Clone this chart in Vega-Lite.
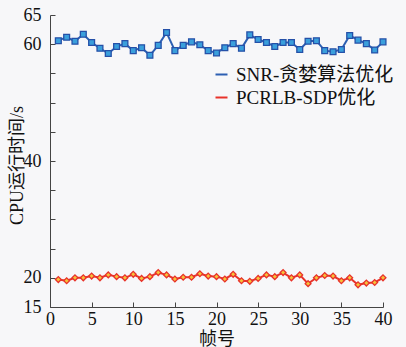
{
  "$schema": "https://vega.github.io/schema/vega-lite/v6.json",
  "width": 333,
  "height": 292,
  "autosize": {"type": "none"},
  "padding": {"left": 50, "top": 15, "right": 23, "bottom": 40},
  "background": "#f7f7f9",
  "config": {
    "view": {"stroke": null},
    "font": "Liberation Serif, Noto Sans CJK SC",
    "axis": {
      "domainColor": "#444",
      "tickColor": "#444",
      "grid": false,
      "labelFont": "Liberation Serif",
      "labelFontSize": 18,
      "labelColor": "#111",
      "titleFont": "Liberation Serif, Noto Sans CJK SC",
      "titleFontSize": 18,
      "titleFontWeight": "normal",
      "titleColor": "#111"
    }
  },
  "data": {
    "values": [
      {"frame": 1, "series": "SNR-贪婪算法优化", "time": 60.6},
      {"frame": 2, "series": "SNR-贪婪算法优化", "time": 61.2},
      {"frame": 3, "series": "SNR-贪婪算法优化", "time": 60.5},
      {"frame": 4, "series": "SNR-贪婪算法优化", "time": 61.7},
      {"frame": 5, "series": "SNR-贪婪算法优化", "time": 60.3},
      {"frame": 6, "series": "SNR-贪婪算法优化", "time": 59.3},
      {"frame": 7, "series": "SNR-贪婪算法优化", "time": 58.4},
      {"frame": 8, "series": "SNR-贪婪算法优化", "time": 59.6},
      {"frame": 9, "series": "SNR-贪婪算法优化", "time": 60.1},
      {"frame": 10, "series": "SNR-贪婪算法优化", "time": 58.9},
      {"frame": 11, "series": "SNR-贪婪算法优化", "time": 59.4},
      {"frame": 12, "series": "SNR-贪婪算法优化", "time": 58.1},
      {"frame": 13, "series": "SNR-贪婪算法优化", "time": 59.8},
      {"frame": 14, "series": "SNR-贪婪算法优化", "time": 62.0},
      {"frame": 15, "series": "SNR-贪婪算法优化", "time": 58.9},
      {"frame": 16, "series": "SNR-贪婪算法优化", "time": 59.8},
      {"frame": 17, "series": "SNR-贪婪算法优化", "time": 60.4},
      {"frame": 18, "series": "SNR-贪婪算法优化", "time": 59.9},
      {"frame": 19, "series": "SNR-贪婪算法优化", "time": 58.9},
      {"frame": 20, "series": "SNR-贪婪算法优化", "time": 58.5},
      {"frame": 21, "series": "SNR-贪婪算法优化", "time": 59.4},
      {"frame": 22, "series": "SNR-贪婪算法优化", "time": 60.1},
      {"frame": 23, "series": "SNR-贪婪算法优化", "time": 59.3},
      {"frame": 24, "series": "SNR-贪婪算法优化", "time": 61.6},
      {"frame": 25, "series": "SNR-贪婪算法优化", "time": 60.8},
      {"frame": 26, "series": "SNR-贪婪算法优化", "time": 60.3},
      {"frame": 27, "series": "SNR-贪婪算法优化", "time": 59.6},
      {"frame": 28, "series": "SNR-贪婪算法优化", "time": 60.3},
      {"frame": 29, "series": "SNR-贪婪算法优化", "time": 60.3},
      {"frame": 30, "series": "SNR-贪婪算法优化", "time": 59.1},
      {"frame": 31, "series": "SNR-贪婪算法优化", "time": 60.5},
      {"frame": 32, "series": "SNR-贪婪算法优化", "time": 60.6},
      {"frame": 33, "series": "SNR-贪婪算法优化", "time": 58.9},
      {"frame": 34, "series": "SNR-贪婪算法优化", "time": 58.7},
      {"frame": 35, "series": "SNR-贪婪算法优化", "time": 59.1},
      {"frame": 36, "series": "SNR-贪婪算法优化", "time": 61.5},
      {"frame": 37, "series": "SNR-贪婪算法优化", "time": 60.7},
      {"frame": 38, "series": "SNR-贪婪算法优化", "time": 60.1},
      {"frame": 39, "series": "SNR-贪婪算法优化", "time": 59.0},
      {"frame": 40, "series": "SNR-贪婪算法优化", "time": 60.4},
      {"frame": 1, "series": "PCRLB-SDP优化", "time": 19.7},
      {"frame": 2, "series": "PCRLB-SDP优化", "time": 19.5},
      {"frame": 3, "series": "PCRLB-SDP优化", "time": 20.0},
      {"frame": 4, "series": "PCRLB-SDP优化", "time": 20.0},
      {"frame": 5, "series": "PCRLB-SDP优化", "time": 20.3},
      {"frame": 6, "series": "PCRLB-SDP优化", "time": 20.0},
      {"frame": 7, "series": "PCRLB-SDP优化", "time": 20.5},
      {"frame": 8, "series": "PCRLB-SDP优化", "time": 20.2},
      {"frame": 9, "series": "PCRLB-SDP优化", "time": 20.0},
      {"frame": 10, "series": "PCRLB-SDP优化", "time": 20.6},
      {"frame": 11, "series": "PCRLB-SDP优化", "time": 19.9},
      {"frame": 12, "series": "PCRLB-SDP优化", "time": 20.2},
      {"frame": 13, "series": "PCRLB-SDP优化", "time": 20.9},
      {"frame": 14, "series": "PCRLB-SDP优化", "time": 20.5},
      {"frame": 15, "series": "PCRLB-SDP优化", "time": 19.8},
      {"frame": 16, "series": "PCRLB-SDP优化", "time": 20.1},
      {"frame": 17, "series": "PCRLB-SDP优化", "time": 20.1},
      {"frame": 18, "series": "PCRLB-SDP优化", "time": 20.7},
      {"frame": 19, "series": "PCRLB-SDP优化", "time": 20.3},
      {"frame": 20, "series": "PCRLB-SDP优化", "time": 20.2},
      {"frame": 21, "series": "PCRLB-SDP优化", "time": 19.8},
      {"frame": 22, "series": "PCRLB-SDP优化", "time": 20.6},
      {"frame": 23, "series": "PCRLB-SDP优化", "time": 19.5},
      {"frame": 24, "series": "PCRLB-SDP优化", "time": 19.4},
      {"frame": 25, "series": "PCRLB-SDP优化", "time": 19.9},
      {"frame": 26, "series": "PCRLB-SDP优化", "time": 20.5},
      {"frame": 27, "series": "PCRLB-SDP优化", "time": 20.2},
      {"frame": 28, "series": "PCRLB-SDP优化", "time": 20.9},
      {"frame": 29, "series": "PCRLB-SDP优化", "time": 20.0},
      {"frame": 30, "series": "PCRLB-SDP优化", "time": 20.5},
      {"frame": 31, "series": "PCRLB-SDP优化", "time": 19.0},
      {"frame": 32, "series": "PCRLB-SDP优化", "time": 20.0},
      {"frame": 33, "series": "PCRLB-SDP优化", "time": 20.4},
      {"frame": 34, "series": "PCRLB-SDP优化", "time": 20.3},
      {"frame": 35, "series": "PCRLB-SDP优化", "time": 19.5},
      {"frame": 36, "series": "PCRLB-SDP优化", "time": 20.0},
      {"frame": 37, "series": "PCRLB-SDP优化", "time": 18.8},
      {"frame": 38, "series": "PCRLB-SDP优化", "time": 19.1},
      {"frame": 39, "series": "PCRLB-SDP优化", "time": 19.2},
      {"frame": 40, "series": "PCRLB-SDP优化", "time": 20.0}
    ]
  },
  "encoding": {
    "x": {
      "field": "frame",
      "type": "quantitative",
      "title": "帧号",
      "scale": {"domain": [0, 40], "nice": false, "zero": false},
      "axis": {
        "values": [0, 5, 10, 15, 20, 25, 30, 35, 40],
        "tickSize": -5,
        "labelPadding": 8,
        "labelFlush": false,
        "titleY": 32,
        "titleBaseline": "middle"
      }
    },
    "y": {
      "field": "time",
      "type": "quantitative",
      "title": "CPU运行时间/s",
      "scale": {"domain": [15, 65], "nice": false, "zero": false},
      "axis": {
        "values": [15, 20, 25, 30, 35, 40, 45, 50, 55, 60, 65],
        "labelExpr": "indexof([15, 20, 40, 60, 65], datum.value) >= 0 ? datum.label : ''",
        "tickSize": -5,
        "labelPadding": 14,
        "labelFlush": false,
        "titleAngle": -90,
        "titleX": -33,
        "titleY": 150,
        "titleBaseline": "middle",
        "titleAlign": "center"
      }
    }
  },
  "layer": [
    {
      "mark": {"type": "line", "strokeWidth": 2},
      "encoding": {
        "color": {
          "field": "series",
          "type": "nominal",
          "scale": {
            "domain": ["SNR-贪婪算法优化", "PCRLB-SDP优化"],
            "range": ["#2c5fb2", "#e8322a"]
          },
          "legend": {
            "title": null,
            "orient": "none",
            "legendX": 162,
            "legendY": 50,
            "padding": 0,
            "symbolType": "stroke",
            "symbolSize": 144,
            "symbolStrokeWidth": 2,
            "labelFont": "Liberation Serif, Noto Sans CJK SC",
            "labelFontSize": 19,
            "labelColor": "#111",
            "labelOffset": 5,
            "rowPadding": 3,
            "labelLimit": 300
          }
        }
      }
    },
    {
      "transform": [{"filter": "datum.series === 'SNR-贪婪算法优化'"}],
      "mark": {
        "type": "point",
        "shape": "square",
        "filled": true,
        "fill": "#3a9fdc",
        "stroke": "#2550a8",
        "strokeWidth": 1.3,
        "size": 34,
        "opacity": 1
      }
    },
    {
      "transform": [{"filter": "datum.series === 'PCRLB-SDP优化'"}],
      "mark": {
        "type": "point",
        "shape": "diamond",
        "filled": true,
        "fill": "#f6c23a",
        "stroke": "#e8322a",
        "strokeWidth": 1.3,
        "size": 34,
        "opacity": 1
      }
    }
  ]
}
